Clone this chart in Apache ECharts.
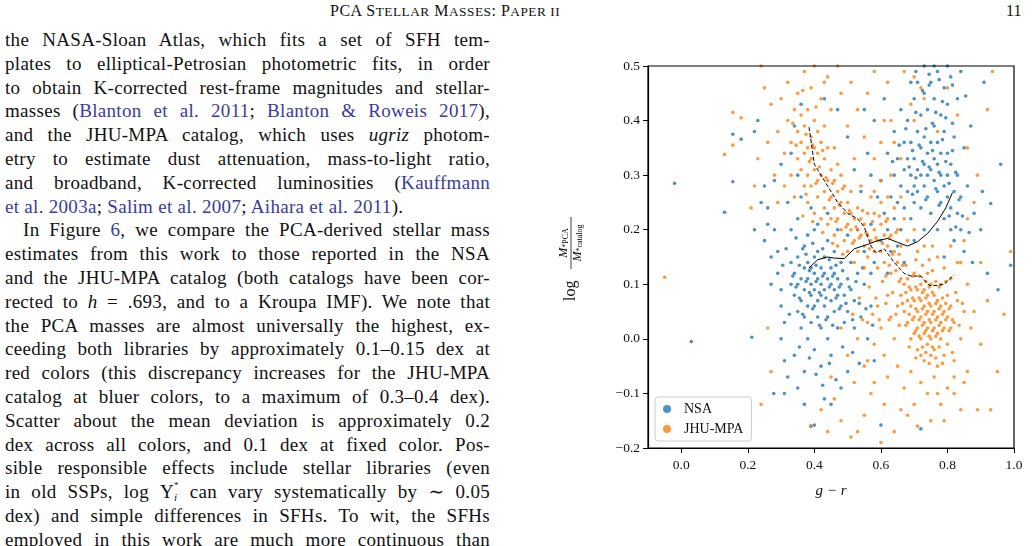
<!DOCTYPE html>
<html>
<head>
<meta charset="utf-8">
<script src="https://cdn.jsdelivr.net/npm/echarts@6/dist/echarts.min.js"></script>
<style>
  body { margin:0; background:#fff; }
  #page { position:relative; width:1034px; height:546px; overflow:hidden; font-family:"Liberation Serif","DejaVu Serif",serif; color:#111; }
  #head { position:absolute; top:2px; left:0; width:1034px; font-size:16px; }
  #head .t { position:absolute; left:330px; letter-spacing:0.5px; }
  #head .n { position:absolute; left:1006px; }
  #col { position:absolute; left:5px; top:28px; width:485px; font-size:19px; letter-spacing:0.3px; line-height:23.8px; }
  #col div { text-align:justify; text-align-last:justify; white-space:nowrap; }
  #col div.last { text-align-last:left; }
  #col div.ind { text-indent:18px; }
  a { color:#3b3b9e; text-decoration:none; }
  #chart { position:absolute; left:550px; top:50px; width:484px; height:460px; }
</style>
</head>
<body>
<div id="page">
  <div id="head"><span class="t">PCA S<small>TELLAR</small> M<small>ASSES</small>: P<small>APER II</small></span><span class="n">11</span></div>
  <div id="col">
    <div>the NASA-Sloan Atlas, which fits a set of SFH tem-</div>
    <div>plates to elliptical-Petrosian photometric fits, in order</div>
    <div>to obtain K-corrected rest-frame magnitudes and stellar-</div>
    <div>masses (<a>Blanton et al. 2011</a>; <a>Blanton &amp; Roweis 2017</a>),</div>
    <div>and the JHU-MPA catalog, which uses <i>ugriz</i> photom-</div>
    <div>etry to estimate dust attenuation, mass-to-light ratio,</div>
    <div>and broadband, K-corrected luminosities (<a>Kauffmann</a></div>
    <div class="last"><a>et al. 2003a</a>; <a>Salim et al. 2007</a>; <a>Aihara et al. 2011</a>).</div>
    <div class="ind">In Figure <a>6</a>, we compare the PCA-derived stellar mass</div>
    <div>estimates from this work to those reported in the NSA</div>
    <div>and the JHU-MPA catalog (both catalogs have been cor-</div>
    <div>rected to <i>h</i> = .693, and to a Kroupa IMF). We note that</div>
    <div>the PCA masses are almost universally the highest, ex-</div>
    <div>ceeding both libraries by approximately 0.1–0.15 dex at</div>
    <div>red colors (this discrepancy increases for the JHU-MPA</div>
    <div>catalog at bluer colors, to a maximum of 0.3–0.4 dex).</div>
    <div>Scatter about the mean deviation is approximately 0.2</div>
    <div>dex across all colors, and 0.1 dex at fixed color. Pos-</div>
    <div>sible responsible effects include stellar libraries (even</div>
    <div>in old SSPs, log Υ<span style="display:inline-block;line-height:8px;vertical-align:-3px;font-size:11px"><sup>*</sup><br><i>i</i></span> can vary systematically by ∼ 0.05</div>
    <div>dex) and simple differences in SFHs. To wit, the SFHs</div>
    <div>employed in this work are much more continuous than</div>
  </div>
  <div id="chart"></div>
</div>
<script>
// NSA points [g-r, log ratio]
var nsaPts = [
[-0.02,0.285],[0.03,-0.005],[0.13,0.232],[0.155,0.375],[0.18,0.366],[0.155,0.288],[0.212,0.003],[0.278,-0.1],[0.39,-0.16],[0.4,-0.158],[0.6,-0.158],[0.72,-0.165],[0.96,0.32],[0.952,0.09],[0.93,0.248],[0.905,0.27],[0.99,0.135],[0.91,0.47],[0.9,0.2],[0.92,0.12],
[0.22,0.38],[0.23,0.4],[0.24,0.25],[0.25,0.18],[0.26,0.24],[0.22,0.2],[0.27,0.15],[0.28,0.2],[0.29,0.12],[0.3,0.09],[0.3,0.06],[0.31,0.03],[0.31,-0.04],[0.32,-0.07],[0.33,0.14],[0.32,0.25],[0.28,0.29],[0.3,0.32],[0.34,0.39],[0.36,0.43],
[0.33,0.1],[0.34,0.08],[0.34,0.12],[0.35,0.05],[0.35,0.1],[0.35,0.15],[0.36,0.11],[0.36,0.07],[0.36,0.02],[0.37,0.13],[0.37,0.09],[0.37,0.17],[0.37,0.04],[0.38,0.11],[0.38,0.06],[0.38,0.14],[0.38,0.19],[0.38,0.0],[0.39,0.1],[0.39,0.08],
[0.39,0.13],[0.39,0.03],[0.4,0.12],[0.4,0.09],[0.4,0.06],[0.4,0.15],[0.4,0.2],[0.4,-0.02],[0.41,0.11],[0.41,0.07],[0.41,0.04],[0.41,0.16],[0.42,0.1],[0.42,0.13],[0.42,0.08],[0.42,0.02],[0.42,-0.05],[0.43,0.12],[0.43,0.06],[0.43,0.15],
[0.43,0.09],[0.44,0.11],[0.44,0.04],[0.44,0.18],[0.44,0.0],[0.45,0.1],[0.45,0.07],[0.45,0.13],[0.45,-0.03],[0.46,0.09],[0.46,0.12],[0.46,0.05],[0.46,0.16],[0.47,0.08],[0.47,0.11],[0.47,0.02],[0.48,0.1],[0.48,0.06],[0.48,0.14],[0.49,0.08],
[0.49,0.03],[0.5,0.11],[0.5,0.05],[0.5,-0.06],[0.51,0.09],[0.51,0.14],[0.52,0.07],[0.52,0.02],[0.53,0.12],[0.54,0.04],[0.55,0.1],[0.56,0.0],[0.57,0.06],[0.58,-0.04],[0.48,-0.09],[0.45,-0.12],[0.43,-0.11],[0.37,-0.06],[0.34,-0.03],[0.33,0.2],
[0.35,0.22],[0.36,0.26],[0.39,0.24],[0.41,0.21],[0.44,0.23],[0.47,0.2],[0.5,0.19],[0.53,0.2],[0.55,0.16],[0.57,0.21],[0.58,0.14],[0.6,0.18],[0.61,0.23],[0.62,0.2],[0.63,0.26],[0.63,0.16],[0.64,0.3],[0.64,0.22],[0.65,0.25],[0.65,0.33],
[0.66,0.28],[0.66,0.2],[0.67,0.31],[0.67,0.36],[0.67,0.24],[0.68,0.27],[0.68,0.33],[0.68,0.4],[0.69,0.3],[0.69,0.22],[0.69,0.36],[0.7,0.28],[0.7,0.33],[0.7,0.25],[0.7,0.44],[0.71,0.31],[0.71,0.38],[0.71,0.27],[0.71,0.47],[0.72,0.3],
[0.72,0.35],[0.72,0.24],[0.72,0.41],[0.73,0.32],[0.73,0.28],[0.73,0.37],[0.73,0.45],[0.73,0.5],[0.74,0.3],[0.74,0.34],[0.74,0.26],[0.74,0.42],[0.75,0.31],[0.75,0.36],[0.75,0.23],[0.75,0.47],[0.76,0.29],[0.76,0.33],[0.76,0.39],[0.76,0.44],
[0.77,0.27],[0.77,0.32],[0.77,0.36],[0.77,0.49],[0.78,0.3],[0.78,0.25],[0.78,0.41],[0.78,0.34],[0.79,0.28],[0.79,0.22],[0.79,0.38],[0.79,0.46],[0.8,0.3],[0.8,0.26],[0.8,0.34],[0.8,0.43],[0.81,0.24],[0.81,0.2],[0.81,0.32],[0.81,0.48],
[0.82,0.27],[0.82,0.18],[0.82,0.37],[0.83,0.23],[0.83,0.3],[0.83,0.44],[0.84,0.2],[0.84,0.26],[0.85,0.35],[0.85,0.16],[0.86,0.28],[0.87,0.39],[0.88,0.23],[0.84,0.49],[0.8,0.5],[0.76,0.5],[0.69,0.47],[0.66,0.42],[0.64,0.38],[0.62,0.34],
[0.6,0.29],[0.59,0.26],[0.57,0.3],[0.56,0.34],[0.54,0.27],[0.52,0.31],[0.61,0.44],[0.58,0.4],[0.55,0.42],[0.5,0.37],[0.47,0.42],[0.43,0.44],[0.65,0.17],[0.67,0.14],[0.7,0.18],[0.73,0.2],[0.77,0.2],[0.79,0.15],[0.62,0.12],[0.57,0.12],
[0.335,0.115],[0.345,0.095],[0.355,0.135],[0.355,0.075],[0.365,0.165],[0.365,0.045],[0.375,0.105],[0.375,0.155],[0.385,0.085],[0.385,0.125],[0.395,0.055],[0.395,0.175],[0.405,0.105],[0.405,0.135],[0.415,0.085],[0.415,0.025],[0.425,0.115],[0.425,0.165],[0.435,0.075],[0.435,0.035],
[0.445,0.095],[0.445,0.145],[0.455,0.115],[0.455,0.025],[0.465,0.075],[0.465,0.135],[0.475,0.055],[0.475,0.095],[0.485,0.125],[0.485,-0.015],[0.495,0.065],[0.505,0.095],[0.515,0.035],[0.525,0.105],[0.535,0.065],[0.545,0.13],[0.325,0.045],[0.315,0.165],[0.305,0.135],[0.345,0.185],
[0.355,-0.015],[0.385,-0.035],[0.405,-0.065],[0.425,-0.085],[0.445,-0.045],[0.465,-0.075],[0.515,-0.025],[0.535,-0.045],[0.555,0.055],[0.575,0.025],[0.35,-0.09],[0.37,-0.12],[0.31,-0.1],[0.3,0.0],[0.29,0.16],[0.27,0.1],[0.26,0.21],[0.25,0.28],[0.33,0.34],[0.35,0.3],
[0.685,0.315],[0.695,0.345],[0.705,0.295],[0.715,0.355],[0.725,0.325],[0.735,0.385],[0.745,0.315],[0.755,0.345],[0.765,0.275],[0.775,0.305],[0.785,0.365],[0.795,0.325],[0.805,0.285],[0.815,0.345],[0.825,0.305],[0.835,0.255],[0.845,0.225],[0.765,0.415],[0.745,0.465],[0.785,0.435],
[0.705,0.415],[0.725,0.455],[0.755,0.395],[0.795,0.405],[0.815,0.395],[0.675,0.385],[0.655,0.355],[0.635,0.325],[0.695,0.265],[0.735,0.255],[0.775,0.245],[0.805,0.225],[0.825,0.205],[0.745,0.485],[0.705,0.49],[0.775,0.475],[0.815,0.465],[0.855,0.445],[0.865,0.195],[0.875,0.14]
];
// JHU-MPA points [g-r, log ratio]
var jhuPts = [
[-0.05,0.113],[0.13,0.338],[0.155,0.415],[0.18,0.405],[0.155,0.355],[0.24,-0.12],[0.99,0.16],[0.935,0.49],[0.97,0.045],[0.93,-0.13],[0.89,-0.13],[0.88,0.05],[0.9,0.14],[0.92,0.07],[0.95,-0.06],[0.89,0.3],[0.92,0.42],[0.26,0.02],[0.27,-0.06],[0.21,0.24],
[0.24,0.5],[0.25,0.46],[0.27,0.43],[0.22,0.28],[0.23,0.33],[0.26,0.36],[0.28,0.3],[0.29,0.25],[0.29,0.38],[0.3,0.44],[0.31,0.34],[0.31,0.28],[0.32,0.4],[0.32,0.47],[0.33,0.36],[0.33,0.3],[0.34,0.42],[0.34,0.26],[0.35,0.33],[0.35,0.38],
[0.35,0.45],[0.36,0.31],[0.36,0.36],[0.36,0.41],[0.37,0.28],[0.37,0.34],[0.37,0.39],[0.37,0.49],[0.38,0.3],[0.38,0.35],[0.38,0.42],[0.38,0.25],[0.39,0.33],[0.39,0.37],[0.39,0.28],[0.39,0.46],[0.4,0.31],[0.4,0.35],[0.4,0.4],[0.4,0.23],
[0.41,0.29],[0.41,0.34],[0.41,0.38],[0.41,0.26],[0.42,0.3],[0.42,0.36],[0.42,0.22],[0.42,0.44],[0.43,0.27],[0.43,0.33],[0.43,0.24],[0.43,0.39],[0.44,0.29],[0.44,0.21],[0.44,0.35],[0.44,0.48],[0.45,0.26],[0.45,0.31],[0.45,0.22],[0.45,0.42],
[0.46,0.24],[0.46,0.29],[0.46,0.19],[0.46,0.35],[0.47,0.22],[0.47,0.27],[0.47,0.32],[0.47,0.17],[0.48,0.25],[0.48,0.2],[0.48,0.3],[0.48,0.45],[0.49,0.23],[0.49,0.18],[0.49,0.28],[0.5,0.21],[0.5,0.25],[0.5,0.16],[0.5,0.39],[0.51,0.2],
[0.51,0.23],[0.51,0.27],[0.52,0.18],[0.52,0.22],[0.52,0.14],[0.52,0.33],[0.53,0.2],[0.53,0.24],[0.53,0.16],[0.54,0.19],[0.54,0.22],[0.54,0.28],[0.55,0.17],[0.55,0.21],[0.55,0.13],[0.56,0.19],[0.56,0.23],[0.56,0.15],[0.57,0.18],[0.57,0.26],
[0.58,0.2],[0.58,0.16],[0.58,0.23],[0.59,0.18],[0.59,0.13],[0.6,0.21],[0.6,0.16],[0.6,0.25],[0.61,0.19],[0.61,0.14],[0.62,0.22],[0.62,0.17],[0.63,0.19],[0.63,0.12],[0.64,0.16],[0.64,0.24],[0.65,0.14],[0.65,0.2],[0.66,0.11],[0.66,0.17],
[0.64,0.36],[0.61,0.4],[0.63,0.3],[0.58,0.33],[0.56,0.45],[0.53,0.42],[0.51,0.47],[0.47,0.5],[0.43,0.47],[0.4,0.5],[0.58,0.49],[0.62,0.47],[0.67,0.49],[0.7,0.48],[0.55,0.37],[0.6,0.29],[0.67,0.22],[0.7,0.2],[0.73,0.17],[0.77,0.15],
[0.66,0.08],[0.67,0.05],[0.67,0.1],[0.68,0.07],[0.68,0.03],[0.68,0.11],[0.69,0.06],[0.69,0.0],[0.69,0.09],[0.7,0.04],[0.7,0.07],[0.7,0.01],[0.7,0.12],[0.71,0.05],[0.71,0.02],[0.71,0.09],[0.71,-0.02],[0.72,0.04],[0.72,0.07],[0.72,0.0],
[0.72,0.1],[0.72,-0.03],[0.73,0.03],[0.73,0.06],[0.73,0.01],[0.73,0.09],[0.73,-0.04],[0.74,0.02],[0.74,0.05],[0.74,0.08],[0.74,-0.01],[0.74,0.12],[0.75,0.03],[0.75,0.06],[0.75,0.0],[0.75,-0.03],[0.75,0.1],[0.76,0.02],[0.76,0.05],[0.76,0.08],
[0.76,-0.02],[0.77,0.01],[0.77,0.04],[0.77,0.07],[0.77,-0.05],[0.78,0.03],[0.78,0.06],[0.78,0.0],[0.78,0.1],[0.79,0.02],[0.79,0.05],[0.79,-0.03],[0.8,0.04],[0.8,0.08],[0.8,-0.01],[0.81,0.02],[0.81,0.06],[0.81,0.11],[0.82,0.03],[0.82,-0.04],
[0.83,0.07],[0.84,0.0],[0.85,0.05],[0.86,-0.06],[0.86,0.1],[0.84,0.14],[0.63,0.04],[0.64,0.0],[0.65,0.06],[0.62,0.08],[0.6,0.02],[0.59,0.06],[0.61,-0.03],[0.58,-0.01],[0.56,0.03],[0.55,-0.05],[0.53,0.0],[0.52,-0.08],[0.5,-0.03],[0.48,0.02],
[0.62,-0.07],[0.65,-0.05],[0.67,-0.09],[0.69,-0.06],[0.7,-0.12],[0.72,-0.08],[0.74,-0.1],[0.76,-0.07],[0.78,-0.12],[0.8,-0.09],[0.82,-0.1],[0.75,-0.15],[0.71,-0.16],[0.66,-0.13],[0.64,-0.17],[0.61,-0.12],[0.6,-0.19],[0.57,-0.1],[0.55,-0.14],[0.53,-0.17],
[0.51,-0.18],[0.48,-0.15],[0.46,-0.11],[0.44,-0.17],[0.42,-0.13],[0.39,-0.16],[0.56,-0.04],[0.58,-0.08],[0.45,-0.07],[0.79,-0.15],[0.85,-0.08],[0.87,0.02],[0.9,-0.01],[0.88,0.25],[0.86,0.35],[0.83,0.41],[0.8,0.46],[0.73,0.44],[0.77,0.38],[0.7,0.4],
[0.665,0.065],[0.675,0.025],[0.675,0.085],[0.685,0.045],[0.685,0.095],[0.685,-0.015],[0.695,0.035],[0.695,0.075],[0.695,0.115],[0.705,0.015],[0.705,0.055],[0.705,0.095],[0.705,-0.035],[0.715,0.035],[0.715,0.075],[0.715,0.005],[0.715,0.115],[0.725,0.025],[0.725,0.055],[0.725,0.085],
[0.725,-0.015],[0.725,0.135],[0.735,0.015],[0.735,0.045],[0.735,0.075],[0.735,0.105],[0.735,-0.025],[0.745,0.035],[0.745,0.065],[0.745,0.095],[0.745,0.005],[0.745,-0.045],[0.755,0.015],[0.755,0.045],[0.755,0.085],[0.755,-0.015],[0.755,0.125],[0.765,0.035],[0.765,0.065],[0.765,0.005],
[0.765,0.105],[0.765,-0.035],[0.775,0.025],[0.775,0.055],[0.775,0.095],[0.775,-0.015],[0.785,0.045],[0.785,0.015],[0.785,0.075],[0.785,-0.045],[0.795,0.035],[0.795,0.065],[0.795,0.105],[0.805,0.015],[0.805,0.055],[0.815,0.035],[0.815,-0.025],[0.825,0.085],[0.835,0.025],[0.845,0.065],
[0.655,0.025],[0.655,0.105],[0.645,0.045],[0.645,0.125],[0.635,0.085],[0.625,0.035],[0.615,0.065],[0.605,0.105],[0.595,0.035],[0.585,0.075],[0.575,0.045],[0.565,0.095],[0.545,0.035],[0.535,0.075],[0.515,0.045],[0.625,0.135],[0.615,0.115],[0.675,0.135],[0.705,0.145],[0.745,0.145],
[0.385,0.325],[0.395,0.355],[0.405,0.285],[0.415,0.315],[0.425,0.345],[0.435,0.295],[0.445,0.255],[0.455,0.285],[0.465,0.215],[0.475,0.245],[0.485,0.275],[0.495,0.205],[0.505,0.235],[0.515,0.175],[0.525,0.205],[0.535,0.185],[0.545,0.235],[0.555,0.195],[0.565,0.165],[0.575,0.215],
[0.585,0.185],[0.595,0.225],[0.605,0.175],[0.615,0.215],[0.625,0.185],[0.635,0.155],[0.645,0.195],[0.655,0.155],[0.665,0.135],[0.375,0.265],[0.365,0.225],[0.395,0.215],[0.425,0.195],[0.455,0.175],[0.485,0.155],[0.375,0.375],[0.405,0.425],[0.365,0.455],[0.345,0.355],[0.335,0.395],
[0.6,0.36],[0.63,0.4],[0.66,0.33],[0.69,0.43],[0.72,0.46],[0.58,0.27],[0.62,0.26],[0.66,0.26],[0.68,0.18],[0.71,0.16],[0.755,0.17],[0.79,0.13],[0.81,0.17],[0.83,0.14],[0.85,0.18],[0.86,0.22],[0.82,-0.07],[0.84,-0.13],[0.77,-0.1],[0.68,-0.14]
];
// median curves
var jhuMedX = [0.384,0.40,0.42,0.44,0.47,0.50,0.53,0.55,0.57,0.585,0.61,0.64,0.67,0.69,0.72,0.745,0.77,0.79,0.81,0.82];
var jhuMedY = [0.388,0.32,0.30,0.28,0.25,0.23,0.22,0.205,0.17,0.158,0.165,0.14,0.12,0.115,0.115,0.098,0.098,0.10,0.112,0.117];
var nsaMedX = [0.384,0.41,0.44,0.46,0.49,0.52,0.56,0.59,0.62,0.65,0.68,0.71,0.74,0.77,0.795,0.815];
var nsaMedY = [0.13,0.145,0.15,0.148,0.147,0.165,0.173,0.18,0.184,0.177,0.17,0.178,0.193,0.215,0.24,0.268];
var xTicks = [0.0,0.2,0.4,0.6,0.8,1.0];

var chart = echarts.init(document.getElementById('chart'));
var serif = 'Liberation Serif';
function zipXY(xs, ys){ return xs.map(function(x,i){ return [x, ys[i]]; }); }
var rich = { m:{ fontFamily:serif, fontStyle:'italic', fontSize:12, color:'#111' }, s:{ fontFamily:serif, fontSize:8, color:'#111', verticalAlign:'bottom' } };
chart.setOption({
  animation:false,
  grid:{ left:98, top:16, right:20, bottom:62 },
  legend:{
    left:105, top:347, orient:'vertical', itemWidth:8, itemHeight:8, itemGap:6,
    padding:[5,8,5,8], borderColor:'#ccc', borderWidth:1, borderRadius:3, backgroundColor:'rgba(255,255,255,0.85)',
    textStyle:{ fontFamily:serif, fontSize:14, color:'#111', padding:[0,0,0,8] },
    data:[{name:'NSA',icon:'circle'},{name:'JHU-MPA',icon:'circle'}]
  },
  xAxis:{
    type:'value', min:-0.1, max:1.0, interval:0.1,
    name:'g − r', nameLocation:'middle', nameGap:36,
    nameTextStyle:{ fontFamily:serif, fontStyle:'italic', fontSize:15, color:'#111' },
    axisLine:{ show:true, onZero:false, lineStyle:{ color:'#000', width:1.2 } },
    axisTick:{ show:true, length:5, customValues:xTicks, lineStyle:{ color:'#000' } },
    axisLabel:{ fontFamily:serif, fontSize:13.5, color:'#111', margin:10, customValues:xTicks,
      formatter:function(v){ return v.toFixed(1); } },
    splitLine:{ show:false }
  },
  yAxis:{
    type:'value', min:-0.2, max:0.5, interval:0.1,
    axisLine:{ show:true, onZero:false, lineStyle:{ color:'#000', width:1.2 } },
    axisTick:{ show:true, length:5, lineStyle:{ color:'#000' } },
    axisLabel:{ fontFamily:serif, fontSize:13.5, color:'#111',
      formatter:function(v){ var s=Math.abs(v).toFixed(1); return v< -1e-9 ? '−'+s : s; } },
    splitLine:{ show:false }
  },
  graphic:[
    { type:'rect', shape:{ x:98, y:16, width:366, height:382 }, style:{ fill:'none', stroke:'#000', lineWidth:1.2 }, z:100, silent:true },
    { type:'group', x:21, y:207, rotation:Math.PI/2, children:[
      { type:'text', x:-44, y:0, style:{ text:'log', font:'16px Liberation Serif', fill:'#111', verticalAlign:'middle' } },
      { type:'text', x:14, y:-7, style:{ text:'{m|M}{s|*}{s|PCA}', rich:rich, align:'center', verticalAlign:'middle' } },
      { type:'line', shape:{ x1:-12, y1:0, x2:40, y2:0 }, style:{ stroke:'#111', lineWidth:0.8 } },
      { type:'text', x:14, y:7, style:{ text:'{m|M}{s|*}{s|catalog}', rich:rich, align:'center', verticalAlign:'middle' } }
    ]}
  ],
  series:[
    { name:'NSA', type:'scatter', data:nsaPts, symbolSize:3.6, itemStyle:{ color:'#1f77b4' } },
    { name:'JHU-MPA', type:'scatter', data:jhuPts, symbolSize:3.6, itemStyle:{ color:'#ff7f0e' } },
    { type:'line', data:zipXY(jhuMedX, jhuMedY), showSymbol:false, lineStyle:{ color:'#000', width:1, type:[4,2] }, z:5 },
    { type:'line', data:zipXY(nsaMedX, nsaMedY), showSymbol:false, lineStyle:{ color:'#000', width:1 }, z:5 }
  ]
});
</script>
</body>
</html>
